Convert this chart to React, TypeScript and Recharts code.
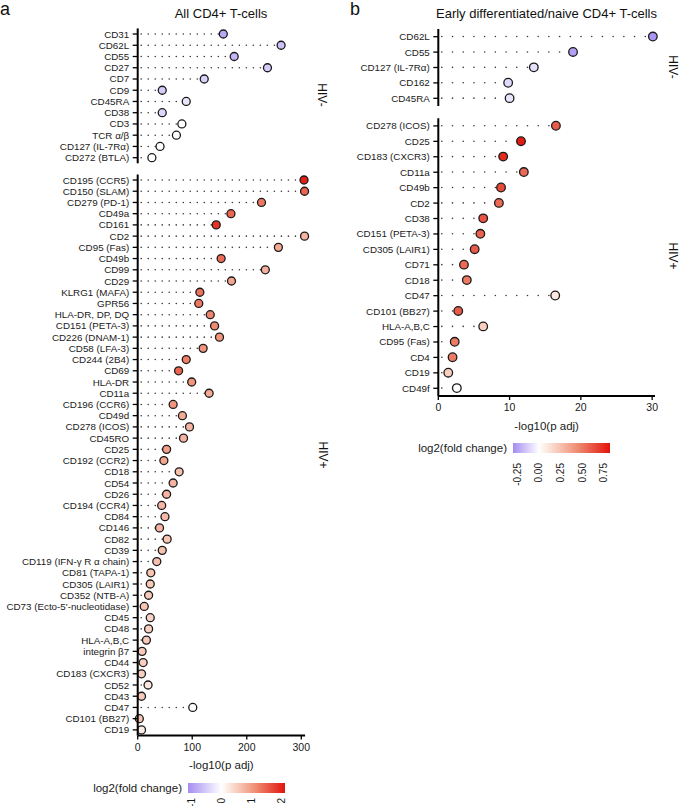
import React from "react";
import { ComposedChart, Bar, XAxis, YAxis } from "recharts";

const FONT = '"Liberation Sans", Arial, Helvetica, sans-serif';

// panel a, HIV-
const aNegMarkers = ["CD31", "CD62L", "CD55", "CD27", "CD7", "CD9", "CD45RA", "CD38", "CD3", "TCR α/β", "CD127 (IL-7Rα)", "CD272 (BTLA)"];
const aNegP = [157, 263, 177, 238, 122, 45, 89, 45, 81, 71, 41, 26];
const aNegFc = [-0.85, -0.6, -0.7, -0.5, -0.45, -0.5, -0.25, -0.4, 0, 0, 0, 0];

// panel a, HIV+
const aPosMarkers = [
  "CD195 (CCR5)", "CD150 (SLAM)", "CD279 (PD-1)", "CD49a", "CD161", "CD2", "CD95 (Fas)", "CD49b", "CD99", "CD29",
  "KLRG1 (MAFA)", "GPR56", "HLA-DR, DP, DQ", "CD151 (PETA-3)", "CD226 (DNAM-1)", "CD58 (LFA-3)", "CD244 (2B4)", "CD69", "HLA-DR", "CD11a",
  "CD196 (CCR6)", "CD49d", "CD278 (ICOS)", "CD45RO", "CD25", "CD192 (CCR2)", "CD18", "CD54", "CD26", "CD194 (CCR4)",
  "CD84", "CD146", "CD82", "CD39", "CD119 (IFN-γ R α chain)", "CD81 (TAPA-1)", "CD305 (LAIR1)", "CD352 (NTB-A)", "CD73 (Ecto-5'-nucleotidase)", "CD45",
  "CD48", "HLA-A,B,C", "integrin β7", "CD44", "CD183 (CXCR3)", "CD52", "CD43", "CD47", "CD101 (BB27)", "CD19",
];
const aPosP = [
  305, 306, 227, 171, 144, 306, 258, 153, 234, 172,
  114, 112, 133, 141, 150, 120, 89, 75, 99, 131,
  65, 82, 95, 84, 53, 48, 76, 65, 53, 44,
  50, 40, 54, 45, 35, 24, 23, 20, 12, 23,
  20, 16, 8, 10, 7, 19, 7, 101, 3, 7,
];
const aPosFc = [
  2.0, 1.45, 1.3, 1.45, 1.85, 0.75, 0.85, 1.4, 0.8, 0.9,
  1.35, 1.3, 1.2, 1.15, 1.05, 1.05, 1.25, 1.45, 1.05, 0.85,
  1.05, 0.85, 0.75, 0.75, 0.95, 0.9, 0.65, 0.75, 0.75, 0.75,
  0.7, 0.75, 0.6, 0.65, 0.65, 0.6, 0.55, 0.55, 0.6, 0.45,
  0.5, 0.55, 0.55, 0.5, 0.5, 0.25, 0.55, 0.02, 0.6, 0.2,
];

// panel b, HIV-
const bNegMarkers = ["CD62L", "CD55", "CD127 (IL-7Rα)", "CD162", "CD45RA"];
const bNegP = [30.1, 18.9, 13.4, 9.8, 10.0];
const bNegFc = [-0.28, -0.25, -0.08, -0.1, -0.07];

// panel b, HIV+
const bPosMarkers = [
  "CD278 (ICOS)", "CD25", "CD183 (CXCR3)", "CD11a", "CD49b", "CD2", "CD38", "CD151 (PETA-3)", "CD305 (LAIR1)",
  "CD71", "CD18", "CD47", "CD101 (BB27)", "HLA-A,B,C", "CD95 (Fas)", "CD4", "CD19", "CD49f",
];
const bPosP = [16.5, 11.6, 9.1, 12.0, 8.8, 8.5, 6.3, 5.9, 5.1, 3.6, 4.0, 16.4, 2.8, 6.3, 2.3, 2.0, 1.4, 2.6];
const bPosFc = [0.6, 0.8, 0.75, 0.55, 0.65, 0.55, 0.62, 0.58, 0.6, 0.55, 0.5, 0.1, 0.6, 0.2, 0.5, 0.5, 0.2, 0];

const aTicks = [0, 100, 200, 300];
const bTicks = [0, 10, 20, 30];
const aLegendTicks = [-1, 0, 1, 2];
const bLegendTicks = [-0.25, 0, 0.25, 0.5, 0.75];

const POS_STOPS: [number, string][] = [
  [0, "#ffffff"],
  [0.25, "#f8cdbd"],
  [0.55, "#ef8a70"],
  [1, "#e2140c"],
];
const NEG_STOPS: [number, string][] = [
  [0, "#ffffff"],
  [1, "#a58cf2"],
];

function hexToRgb(h: string) {
  const n = parseInt(h.slice(1), 16);
  return [(n >> 16) & 255, (n >> 8) & 255, n & 255];
}

function pickColor(stops: [number, string][], t: number) {
  t = Math.max(0, Math.min(1, t));
  for (let i = 1; i < stops.length; i++) {
    if (t <= stops[i][0]) {
      const [t0, c0] = stops[i - 1];
      const [t1, c1] = stops[i];
      const k = (t - t0) / (t1 - t0);
      const a = hexToRgb(c0);
      const b = hexToRgb(c1);
      const rgb = a.map((v, j) => Math.round(v + (b[j] - v) * k));
      return `rgb(${rgb[0]},${rgb[1]},${rgb[2]})`;
    }
  }
  return stops[stops.length - 1][1];
}

function fcColor(fc: number, negMin: number, posMax: number) {
  if (fc >= 0) return pickColor(POS_STOPS, fc / posMax);
  return pickColor(NEG_STOPS, fc / negMin);
}

function toRows(names: string[], p: number[], fc: number[]) {
  return names.map((name, i) => ({ name, p: p[i], fc: fc[i] }));
}

// plain tick so long marker names stay on one line
const MarkerTick = (t: any) => (
  <text x={t.x} y={t.y} textAnchor="end" dominantBaseline="central" fontSize={9.8} fill="#1a1a1a" fontFamily={FONT}>
    {t.payload.value}
  </text>
);

interface PanelProps {
  rows: { name: string; p: number; fc: number }[];
  left: number;
  top: number;
  width: number;
  height: number;
  plotTop: number;
  plotBottom: number;
  yAxisWidth: number;
  rightMargin: number;
  xMax: number;
  xTicks: number[];
  showX: boolean;
  negMin: number;
  posMax: number;
  r: number;
  gap: number;
}

function LollipopPanel(props: PanelProps) {
  const { rows, left, top, width, height, plotTop, plotBottom, yAxisWidth, rightMargin, xMax, xTicks, showX, negMin, posMax, r, gap } = props;
  const xAxisHeight = showX ? 35 : 0;
  const margin = {
    top: plotTop - top,
    right: rightMargin,
    left: 0,
    bottom: top + height - plotBottom - xAxisHeight,
  };

  const lollipop = (s: any) => {
    const { x, y, width: w, height: h, payload } = s;
    const cy = y + h / 2;
    const end = x + w;
    return (
      <g>
        {w - r > 3 && (
          <line
            x1={x + 3.5}
            x2={end - r}
            y1={cy}
            y2={cy}
            stroke="#3a3a3a"
            strokeWidth={1.6}
            strokeLinecap="round"
            strokeDasharray={`0.01 ${gap}`}
          />
        )}
        <circle cx={end} cy={cy} r={r} fill={fcColor(payload.fc, negMin, posMax)} stroke="#1a1a1a" strokeWidth={1.3} />
      </g>
    );
  };

  return (
    <div style={{ position: "absolute", left, top, width, height }}>
      <ComposedChart layout="vertical" width={width} height={height} data={rows} margin={margin}>
        <XAxis
          type="number"
          dataKey="p"
          domain={[0, xMax]}
          ticks={xTicks}
          hide={!showX}
          height={xAxisHeight}
          axisLine={{ stroke: "#000", strokeWidth: 2 }}
          tickLine={{ stroke: "#000", strokeWidth: 1.3 }}
          tickSize={4}
          tickMargin={4}
          tick={{ fontSize: 10.5, fill: "#1a1a1a", fontFamily: FONT }}
          label={{ value: "-log10(p adj)", position: "insideBottom", offset: 1.5, fontSize: 11.5, fill: "#1a1a1a", fontFamily: FONT }}
        />
        <YAxis
          type="category"
          dataKey="name"
          width={yAxisWidth}
          interval={0}
          axisLine={{ stroke: "#000", strokeWidth: 2 }}
          tickLine={{ stroke: "#000", strokeWidth: 1.3 }}
          tickSize={5}
          tickMargin={3.5}
          tick={MarkerTick}
        />
        <Bar dataKey="p" shape={lollipop} isAnimationActive={false} />
      </ComposedChart>
    </div>
  );
}

function ColorLegend({ id, textRight, cy, barX0, barX1, negMin, posMax, ticks, labels, labelTop }: any) {
  const zero = -negMin / (posMax - negMin);
  const toX = (v: number) => barX0 + ((v - negMin) / (posMax - negMin)) * (barX1 - barX0);
  return (
    <g>
      <defs>
        <linearGradient id={id} x1="0" x2="1" y1="0" y2="0">
          <stop offset="0" stopColor={fcColor(negMin, negMin, posMax)} />
          <stop offset={zero} stopColor="#ffffff" />
          {POS_STOPS.slice(1).map(([t, c]) => (
            <stop key={t} offset={zero + t * (1 - zero)} stopColor={c} />
          ))}
        </linearGradient>
      </defs>
      <text x={textRight} y={cy} textAnchor="end" dominantBaseline="central" fontSize={11.5} fill="#1a1a1a">
        log2(fold change)
      </text>
      <rect x={barX0} y={cy - 5} width={barX1 - barX0} height={10} fill={`url(#${id})`} />
      {ticks.map((v: number, i: number) => (
        <text
          key={v}
          x={toX(v)}
          y={labelTop}
          transform={`rotate(-90 ${toX(v)} ${labelTop})`}
          textAnchor="end"
          dominantBaseline="central"
          fontSize={10}
          fill="#1a1a1a"
        >
          {labels[i]}
        </text>
      ))}
    </g>
  );
}

export default function App() {
  const aNeg = { negMin: -1.1, posMax: 2.1 };
  const bNeg = { negMin: -0.3, posMax: 0.82 };
  return (
    <div style={{ position: "absolute", left: 0, top: 0, width: 679, height: 806, background: "#fff", fontFamily: FONT, overflow: "hidden" }}>
      <LollipopPanel
        rows={toRows(aNegMarkers, aNegP, aNegFc)}
        left={0} top={0} width={330} height={170}
        plotTop={28.4} plotBottom={163.3} yAxisWidth={137.7} rightMargin={24.9}
        xMax={307} xTicks={aTicks} showX={false} r={4} gap={7} {...aNeg}
      />
      <LollipopPanel
        rows={toRows(aPosMarkers, aPosP, aPosFc)}
        left={0} top={170} width={330} height={630}
        plotTop={174.4} plotBottom={735.5} yAxisWidth={137.7} rightMargin={24.9}
        xMax={307} xTicks={aTicks} showX={true} r={4} gap={7} {...aNeg}
      />
      <LollipopPanel
        rows={toRows(bNegMarkers, bNegP, bNegFc)}
        left={330} top={0} width={349} height={112}
        plotTop={29} plotBottom={106} yAxisWidth={108.3} rightMargin={24}
        xMax={30.4} xTicks={bTicks} showX={false} r={4.3} gap={10.7} {...bNeg}
      />
      <LollipopPanel
        rows={toRows(bPosMarkers, bPosP, bPosFc)}
        left={330} top={112} width={349} height={330}
        plotTop={118.2} plotBottom={396} yAxisWidth={108.3} rightMargin={24}
        xMax={30.4} xTicks={bTicks} showX={true} r={4.3} gap={10.7} {...bNeg}
      />
      <svg width={679} height={806} style={{ position: "absolute", left: 0, top: 0, pointerEvents: "none" }} fontFamily={FONT}>
        <text x={0} y={15} fontSize={18} fill="#111">a</text>
        <text x={221} y={17.5} fontSize={13} textAnchor="middle" fill="#111">All CD4+ T-cells</text>
        <text x={350} y={15} fontSize={18} fill="#111">b</text>
        <text x={546.5} y={17.5} fontSize={13} textAnchor="middle" fill="#111">Early differentiated/naive CD4+ T-cells</text>

        <text x={321.5} y={95} fontSize={12} textAnchor="middle" dominantBaseline="central" transform="rotate(90 321.5 95)" fill="#111">HIV-</text>
        <text x={323} y={455} fontSize={12} textAnchor="middle" dominantBaseline="central" transform="rotate(90 323 455)" fill="#111">HIV+</text>
        <text x={673} y={67} fontSize={12} textAnchor="middle" dominantBaseline="central" transform="rotate(90 673 67)" fill="#111">HIV-</text>
        <text x={673} y={256} fontSize={12} textAnchor="middle" dominantBaseline="central" transform="rotate(90 673 256)" fill="#111">HIV+</text>

        <ColorLegend
          id="gradA" textRight={182} cy={788} barX0={188} barX1={285}
          {...aNeg} ticks={aLegendTicks} labels={["-1", "0", "1", "2"]} labelTop={798}
        />
        <ColorLegend
          id="gradB" textRight={507} cy={448} barX0={513} barX1={610}
          {...bNeg} ticks={bLegendTicks} labels={["-0.25", "0.00", "0.25", "0.50", "0.75"]} labelTop={463}
        />
      </svg>
    </div>
  );
}
